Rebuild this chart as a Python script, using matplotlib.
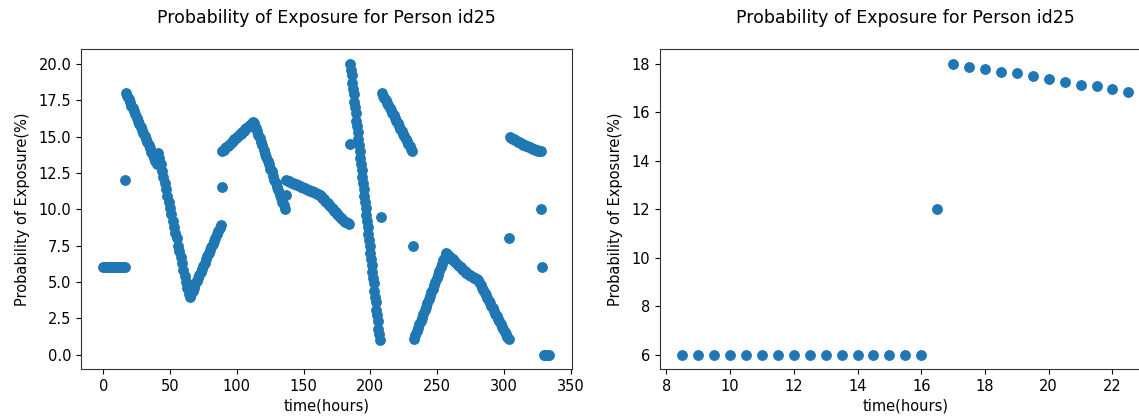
import matplotlib
matplotlib.use("Agg")
import matplotlib.pyplot as plt

# ---------------- Left panel data (hours, exposure %) ----------------
# each run: start hour, sampling step (hours)
run_a = [6, 6, 6, 6, 6, 6, 6, 6, 6, 6, 6, 6, 6, 6, 6, 6, 6]
run_a_dot = [12.0]
run_b = [18.0, 17.77, 17.61, 17.37, 17.13, 16.95, 16.74, 16.52, 16.31, 16.1, 15.88, 15.67,
         15.46, 15.24, 15.03, 14.82, 14.6, 14.39, 14.18, 13.96, 13.75, 13.54, 13.32, 13.11]
run_c = [13.9, 13.5, 13.1, 12.6, 12.2, 11.8, 11.4, 10.9, 10.5, 10.1, 9.7, 9.2,
         8.8, 8.4, 8.0, 7.5, 7.1, 6.7, 6.3, 5.8, 5.4, 5.0, 4.6, 4.2]
run_d = [4.0, 4.2, 4.4, 4.6, 4.9, 5.1, 5.3, 5.5, 5.7, 5.9, 6.1, 6.3,
         6.6, 6.8, 7.0, 7.2, 7.4, 7.6, 7.8, 8.0, 8.3, 8.5, 8.7, 8.9]
run_d_dot = [11.5]
run_e = [14.0, 14.1, 14.2, 14.3, 14.35, 14.45, 14.5, 14.6, 14.7, 14.8, 14.9, 14.95,
         15.05, 15.15, 15.2, 15.3, 15.4, 15.5, 15.6, 15.65, 15.75, 15.8, 15.9, 16.0]
run_f = [15.9, 15.6, 15.4, 15.1, 14.9, 14.6, 14.4, 14.1, 13.8, 13.6, 13.3, 13.1,
         12.8, 12.6, 12.3, 12.0, 11.8, 11.5, 11.3, 11.0, 10.8, 10.5, 10.3, 10.0]
run_f_dot = [11.0]
run_g = [12.0, 11.96, 11.92, 11.88, 11.84, 11.8, 11.76, 11.72, 11.68, 11.64, 11.6, 11.56,
         11.52, 11.48, 11.44, 11.4, 11.36, 11.32, 11.28, 11.24, 11.2, 11.16, 11.12, 11.08,
         11.04, 11.0, 10.9, 10.8, 10.7, 10.6, 10.5, 10.4, 10.3, 10.2, 10.1, 10.0,
         9.9, 9.8, 9.7, 9.6, 9.5, 9.4, 9.3, 9.2, 9.15, 9.1, 9.05, 9.0]
run_g_dot = [14.5]
run_h = [20.0, 19.6, 19.2, 18.7, 18.3, 17.9, 17.4, 17.0, 16.6, 16.1, 15.7, 15.3,
         14.8, 14.4, 14.0, 13.5, 13.1, 12.7, 12.2, 11.8, 11.4, 10.9, 10.5, 10.1,
         9.6, 9.2, 8.8, 8.3, 7.9, 7.5, 7.0, 6.6, 6.2, 5.7, 5.3, 4.9, 4.4, 4.0,
         3.6, 3.1, 2.7, 2.3, 1.8, 1.4, 1.0]
run_h_dot = [9.5]
run_i = [18.0, 17.8, 17.65, 17.5, 17.3, 17.15, 16.95, 16.8, 16.6, 16.45, 16.25, 16.1,
         15.9, 15.75, 15.55, 15.4, 15.2, 15.05, 14.85, 14.7, 14.5, 14.35, 14.15, 14.0]
run_i_dot = [7.5]
run_j = [1.1, 1.35, 1.6, 1.85, 2.1, 2.3, 2.55, 2.8, 3.05, 3.3, 3.55, 3.8, 4.05,
         4.3, 4.55, 4.8, 5.0, 5.25, 5.5, 5.75, 6.0, 6.25, 6.5, 6.75, 7.0]
run_k = [6.9, 6.8, 6.7, 6.6, 6.55, 6.45, 6.35, 6.25, 6.2, 6.1, 6.0, 5.9,
         5.85, 5.75, 5.65, 5.6, 5.5, 5.45, 5.4, 5.35, 5.3, 5.25, 5.2, 5.15,
         5.0, 4.8, 4.6, 4.45, 4.25, 4.1, 3.9, 3.7, 3.55, 3.35, 3.2, 3.0,
         2.8, 2.65, 2.45, 2.3, 2.1, 1.9, 1.75, 1.55, 1.4, 1.2, 1.1]
run_k_dot = [8.0]
run_m = [14.95, 14.9, 14.85, 14.8, 14.75, 14.7, 14.65, 14.6, 14.55, 14.5, 14.45, 14.4,
         14.38, 14.33, 14.29, 14.25, 14.21, 14.17, 14.13, 14.1, 14.07, 14.04, 14.01, 13.98]
run_m_dots = [10.0, 6.0]
run_n = [0, 0, 0, 0, 0]

run_values = [run_a, run_a_dot, run_b, run_c, run_d, run_d_dot, run_e, run_f, run_f_dot,
              run_g, run_g_dot, run_h, run_h_dot, run_i, run_i_dot, run_j, run_k,
              run_k_dot, run_m, run_m_dots, run_n]
run_start = [0, 16.5, 17, 41, 65, 88.5, 89, 113, 136.5,
             137, 184.5, 185, 208, 208.5, 232, 232.5, 257.5,
             304, 304.5, 328, 330]
run_step = [1, 1, 1, 1, 1, 1, 1, 1, 1,
            1, 1, 0.5, 1, 1, 1, 1, 1,
            1, 1, 0.5, 1]

# ---------------- Right panel data (first day) ----------------
hours_day = [8.5, 9, 9.5, 10, 10.5, 11, 11.5, 12, 12.5, 13, 13.5, 14, 14.5, 15, 15.5, 16,
             16.5, 17, 17.5, 18, 18.5, 19, 19.5, 20, 20.5, 21, 21.5, 22, 22.5]
exposure_day = [6, 6, 6, 6, 6, 6, 6, 6, 6, 6, 6, 6, 6, 6, 6, 6,
                12, 18.0, 17.88, 17.77, 17.66, 17.61, 17.50, 17.37, 17.25, 17.13, 17.07, 16.95, 16.83]

title_text = "Probability of Exposure for Person id25"
xlabel_text = "time(hours)"
ylabel_text = "Probability of Exposure(%)"

hours_all, exposure_all = [], []
for start, step, vals in zip(run_start, run_step, run_values):
    for k, v in enumerate(vals):
        hours_all.append(start + k * step)
        exposure_all.append(v)

W, H = 1139, 419
fig = plt.figure(figsize=(W / 100, H / 100), dpi=100)
ax1 = fig.add_axes([81 / W, (H - 369.3) / H, 490.7 / W, 320 / H])
ax2 = fig.add_axes([660 / W, (H - 369.3) / H, 490.7 / W, 320 / H])

for ax, xs, ys in ((ax1, hours_all, exposure_all), (ax2, hours_day, exposure_day)):
    ax.scatter(xs, ys, color="#1f77b4", s=46)
    ax.set_title(title_text, fontsize=12.5, pad=19)
    ax.set_xlabel(xlabel_text, fontsize=10.5, labelpad=3)
    ax.set_ylabel(ylabel_text, fontsize=10.5, labelpad=6)
    ax.tick_params(labelsize=10.5)
    for sp in ax.spines.values():
        sp.set_color("#333333")

fig.savefig("out.png", dpi=100)
